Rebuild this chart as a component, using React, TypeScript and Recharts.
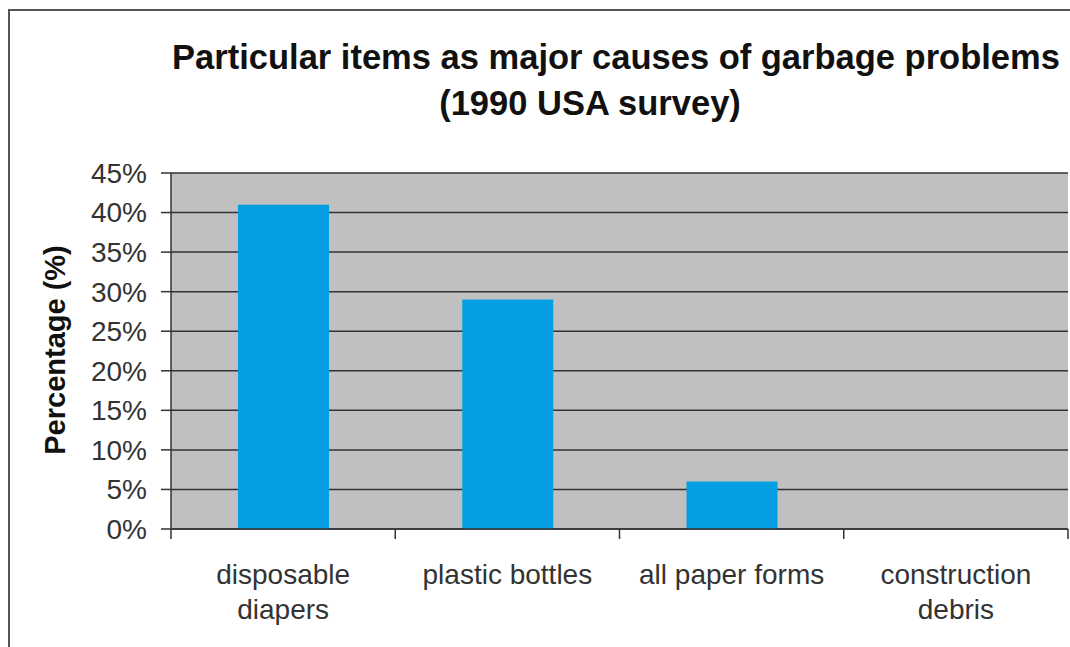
import * as React from 'react';
import { BarChart, Bar, XAxis, YAxis, CartesianGrid } from 'recharts';

const categories = ['disposable\ndiapers', 'plastic bottles', 'all paper forms', 'construction\ndebris'];
const percentages = [41, 29, 6, 0];
const yTicks = [0, 5, 10, 15, 20, 25, 30, 35, 40, 45];

const titleLines = ['Particular items as major causes of garbage problems', '(1990 USA survey)'];
const yLabel = 'Percentage (%)';

const data = categories.map((name, i) => ({ name, value: percentages[i] }));

const W = 1070;
const H = 647;
const PLOT_LEFT = 171;
const PLOT_RIGHT = 1068;
const BAND = (PLOT_RIGHT - PLOT_LEFT) / categories.length;
const FONT = '"Liberation Sans", Arial, sans-serif';

// category label + boundary tick marks (Excel puts ticks between categories)
const CategoryTick = (props: any) => {
  const { x, y, payload, index } = props;
  const lines = String(payload.value).split('\n');
  const left = x - BAND / 2;
  return (
    <g>
      <line x1={left} y1={y} x2={left} y2={y + 10} stroke="#333" strokeWidth={1.5} />
      {index === categories.length - 1 && (
        <line x1={x + BAND / 2} y1={y} x2={x + BAND / 2} y2={y + 10} stroke="#333" strokeWidth={1.5} />
      )}
      <text textAnchor="middle" fontSize={28} fill="#333" fontFamily={FONT}>
        {lines.map((l, i) => (
          <tspan key={i} x={x} y={y + 55 + i * 35}>{l}</tspan>
        ))}
      </text>
    </g>
  );
};

export default function App() {
  return (
    <div style={{ position: 'relative', width: W, height: H, overflow: 'hidden', background: '#fff' }}>
      <style>{'body{margin:0}'}</style>
      <div
        style={{
          position: 'absolute',
          left: 8,
          top: 9,
          width: W + 20,
          height: H + 20,
          border: '2px solid #555',
          boxSizing: 'border-box',
        }}
      />
      <BarChart
        width={W}
        height={H}
        data={data}
        margin={{ top: 173, right: W - PLOT_RIGHT, bottom: 0, left: 0 }}
        barSize={91}
        style={{ position: 'absolute', left: 0, top: 0, fontFamily: FONT }}
      >
        <CartesianGrid vertical={false} stroke="#333" strokeWidth={1.5} fill="#c0c0c1" />
        <XAxis
          dataKey="name"
          height={H - 529}
          axisLine={{ stroke: '#333', strokeWidth: 1.5 }}
          tickLine={false}
          tickSize={0}
          tickMargin={0}
          interval={0}
          tick={<CategoryTick />}
        />
        <YAxis
          width={PLOT_LEFT}
          domain={[0, 45]}
          ticks={yTicks}
          interval={0}
          tickFormatter={(v: number) => `${v}%`}
          axisLine={{ stroke: '#333', strokeWidth: 1.5 }}
          tickLine={{ stroke: '#333', strokeWidth: 1.5 }}
          tickSize={10}
          tickMargin={14}
          tick={{ fontSize: 28, fill: '#333', fontFamily: FONT }}
        />
        <Bar dataKey="value" fill="#039fe2" isAnimationActive={false} />
      </BarChart>
      <svg
        width={W}
        height={H}
        style={{ position: 'absolute', left: 0, top: 0, pointerEvents: 'none' }}
      >
        <text x={616} y={69} textAnchor="middle" fontSize={34.5} fontWeight="bold" fill="#111" fontFamily={FONT}>
          {titleLines[0]}
        </text>
        <text x={590} y={115} textAnchor="middle" fontSize={34.5} fontWeight="bold" fill="#111" fontFamily={FONT}>
          {titleLines[1]}
        </text>
        <text
          x={65}
          y={350}
          transform="rotate(-90 65 350)"
          textAnchor="middle"
          fontSize={29}
          fontWeight="bold"
          fill="#111"
          fontFamily={FONT}
        >
          {yLabel}
        </text>
      </svg>
    </div>
  );
}
